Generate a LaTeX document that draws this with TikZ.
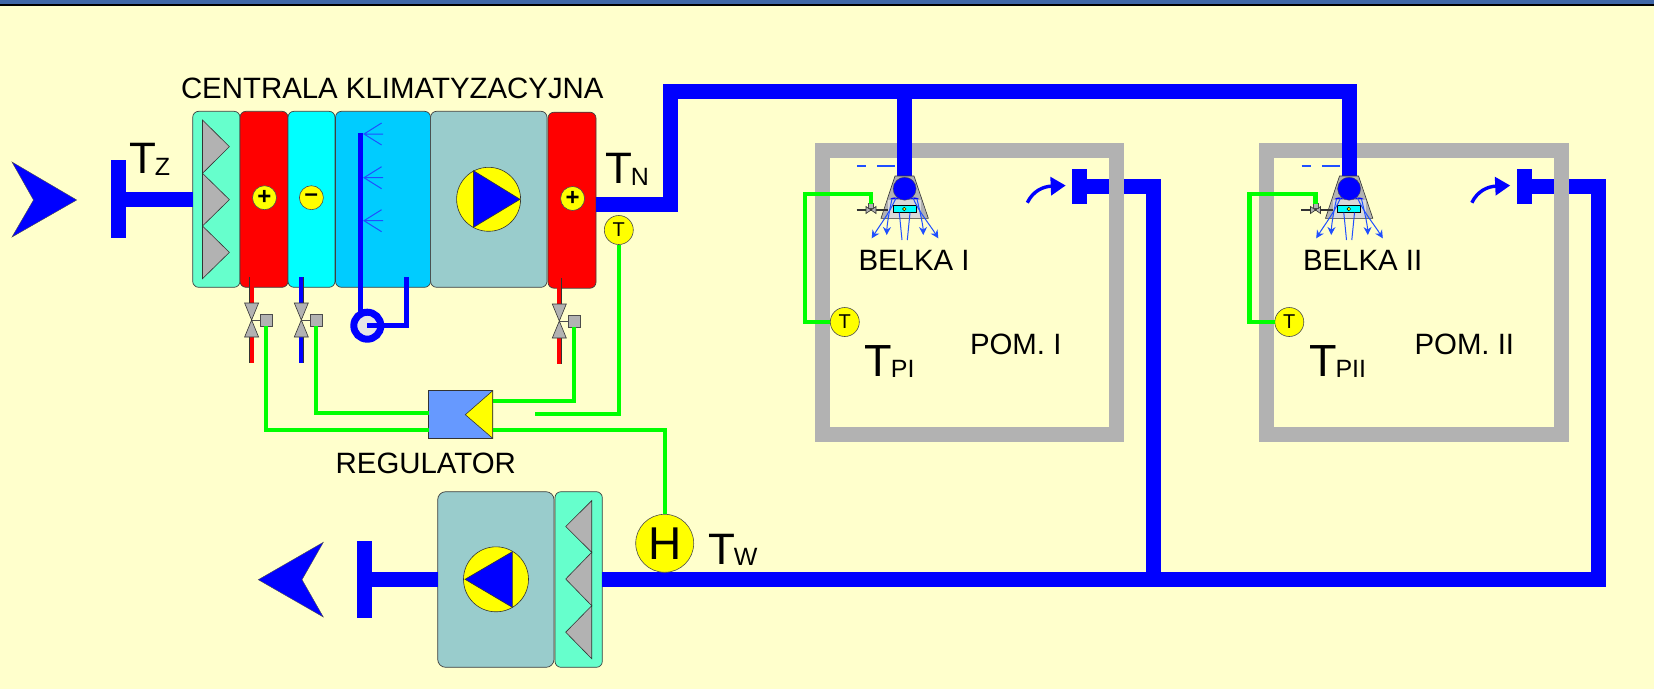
\documentclass[tikz,border=0pt]{standalone}
\usepackage{fontspec}
\setmainfont{Liberation Sans}
\usetikzlibrary{positioning, calc, arrows.meta}
\definecolor{paper}{HTML}{FFFFCC}
\definecolor{wallgray}{HTML}{B2B2B2}
\definecolor{signalgreen}{HTML}{00FF00}
\definecolor{sprayblue}{HTML}{1F4FFF}
\definecolor{aqua}{HTML}{00FFFF}
\definecolor{skyblue}{HTML}{00CCFF}
\definecolor{filtergreen}{HTML}{66FFCC}
\definecolor{fangray}{HTML}{99CCCC}
\definecolor{regblue}{HTML}{6699FF}
\definecolor{purered}{HTML}{FF0000}
\definecolor{pureblue}{HTML}{0000FF}
\definecolor{pureyellow}{HTML}{FFFF00}
\definecolor{bandblue}{HTML}{3F67A8}
\newcommand{\sz}[1]{\fontsize{#1}{#1}\selectfont}
\newcommand{\tlab}[4]{\sz{#1}T\raisebox{-#3pt}{\sz{#2}\kern-1pt\relax #4}}

\begin{document}
\begin{tikzpicture}[x=1pt, y=-1pt,
	every node/.style={outer sep=0, inner sep=0},
	section/.style={draw=black!75, line width=.7pt, rounded corners=6pt},
	fins/.style={draw=black!80, line width=.6pt, fill=wallgray},
	pipe/.style={draw=pureblue, line width=15pt},
	barnode/.style={fill=pureblue, minimum width=15pt},
	tube/.style={line width=5.4pt},
	ctrl/.style={draw=signalgreen, line width=4.2pt},
	sign/.style={circle, draw=black!70, line width=.6pt, fill=pureyellow, minimum size=24pt, font=\bfseries\sz{24}},
	sensor/.style={circle, draw=black!70, line width=.6pt, fill=pureyellow, minimum size=29pt, font=\sz{20}},
	caption/.style={anchor=base west, font=\sz{29.4}},
	tip/.style={fill=pureblue, draw=black!70, line width=.4pt},
	spray/.style={draw=sprayblue, line width=1pt},
	jet/.style={spray, -{Stealth[length=8pt, width=8pt]}},
	actuator/.style={draw=black!70, line width=.6pt, fill=wallgray, minimum size=12pt}]
\useasboundingbox (0,0) rectangle (1654,689);
\fill[paper] (0,0) rectangle (1654,689);
\fill[bandblue] (0,0) rectangle (1654,3.6);
\fill[black] (0,3.6) rectangle (1654,6);

% supply unit
\foreach \n/\cx/\w/\col in {filterA/216.35/47.3/filtergreen, heatA/264/48/purered, cool/311.5/47/aqua, humid/383/95/skyblue, fanA/488.8/116.4/fangray}
	\node[section, fill=\col, minimum width=\w pt, minimum height=176pt] (\n) at (\cx,199.3) {};
\node[section, fill=purered, minimum width=48pt, minimum height=176pt] (heatB) at (572,200.2) {};
\foreach \a/\b in {120/173.3, 173.3/226, 226/278.7}
	\draw[fins] (202.5,\a) -- (229.4,{(\a+\b)/2}) -- (202.5,\b) -- cycle;
\node[sign] (plusA) at (264.5,197.7) {+};
\node[sign] (minusA) at (311.4,197.7) {–};
\node[sign] (plusB) at (572.6,198.5) {+};
\node[circle, draw=black!80, line width=.6pt, fill=pureyellow, minimum size=64pt] (rotorA) at (488.6,199.3) {};
\draw[fins, fill=pureblue] (473.5,170.7) -- (520,199.3) -- (473.5,227.3) -- cycle;
\node[caption] (title) at (181,98) {CENTRALA KLIMATYZACYJNA};

% intake
\draw[tip] (12,162) -- (76.7,200) -- (12,237) -- (33.5,200) -- cycle;
\node[barnode, minimum height=78pt] (barA) at (118.3,199.3) {};
\draw[pipe] (barA.east) -- (filterA.west);
\node[anchor=base west] (tz) at (129,173) {\tlab{44}{25}{2}{Z}};

% humidifier
\node[circle, draw=pureblue, line width=7pt, fill=black!10, minimum size=27pt] (pump) at (367.3,325.7) {};
\coordinate (nozzle) at (360.4,133.3);
\coordinate (hback) at (406.5,276.7);
\draw[pureblue, tube] (nozzle) -- (nozzle |- pump.north);
\draw[pureblue, tube] (pump.center) -| (hback);
\foreach \y in {134, 177.7, 220.7}
	\draw[spray] (381.6,\y-11) -- (364,\y) -- (381.6,\y+11) (364,\y) -- (383,\y);

% valves
\foreach \v/\x/\y/\col/\d in {A/251.6/320/purered/14.7, B/301.3/320/pureblue/15, C/559.3/321/purered/15} {
	\draw[draw=black!80, double=\col, double distance=3.8pt, line width=.4pt] (\x,\y-43) -- (\x,\y-17) (\x,\y+17) -- (\x,\y+43);
	\draw[fins] (\x-7,\y-17) -- (\x+7,\y-17) -- (\x-7,\y+17) -- (\x+7,\y+17) -- cycle;
	\node[actuator] (act\v) at (\x+\d,\y) {};
	\draw[black!70, line width=.7pt] (\x,\y) -- (act\v.west);
}

% regulator
\node[draw=black!80, line width=.7pt, fill=regblue, minimum width=64pt, minimum height=47.6pt] (reg) at (460.7,414.5) {};
\draw[fins, fill=pureyellow] (reg.north east) -- (465.3,414.7) -- (reg.south east) -- cycle;
\node[caption] (regtxt) at (335.7,473) {REGULATOR};
\node[sensor] (tempN) at (618.8,230) {T};
\coordinate (cut) at (535,413.7);
\coordinate (regA) at (reg.west |- 0,430);
\coordinate (regB) at (reg.west |- 0,413.3);
\coordinate (regC) at (reg.east |- 0,400.7);
\coordinate (regD) at (reg.east |- 0,430);
\draw[ctrl] (actA.south) |- (regA);
\draw[ctrl] (actB.south) |- (regB);
\draw[ctrl] (actC.south) |- (regC);
\draw[ctrl] (tempN.south) |- (cut);

% exhaust unit
\node[section, fill=fangray, minimum width=116.3pt, minimum height=175.6pt, rounded corners=8pt] (fanB) at (495.85,579.5) {};
\node[section, fill=filtergreen, minimum width=47.3pt, minimum height=175.6pt] (filterB) at (578.65,579.5) {};
\foreach \a/\b in {500.7/552.3, 552.3/605.7, 605.7/658.7}
	\draw[fins] (591.7,\a) -- (565.7,{(\a+\b)/2}) -- (591.7,\b) -- cycle;
\node[circle, draw=black!80, line width=.6pt, fill=pureyellow, minimum size=65pt] (rotorB) at (496,579.3) {};
\draw[fins, fill=pureblue] (465,579.3) -- (512.3,551.7) -- (512.3,607.3) -- cycle;
\node[barnode, minimum height=76.7pt] (barB) at (364.8,579.5) {};
\draw[pipe] (fanB.west) -- (barB.east);
\draw[tip] (258.3,579.7) -- (323.3,542.3) -- (302,579.7) -- (323.3,617) -- cycle;

% rooms, return ducts behind the walls
\foreach \r/\o in {II/444.5, I/0} {
	\begin{scope}[shift={(\o,0)}]
		\node[barnode, minimum height=34.4pt] (bar\r) at (1079.5,186.5) {};
		\coordinate (drop\r) at (1153.7,579.5);
		\draw[pipe] (filterB.east) -- (drop\r) |- (bar\r.east);
		\node[draw=wallgray, line width=15pt, minimum width=294.3pt, minimum height=283.7pt] (wall\r) at (969.35,292.65) {};
		\coordinate (tee\r) at (904.5,91.7);
		\coordinate (foot\r) at (904.5,178);
	\end{scope}
}

% supply duct
\coordinate (riser) at (670.7,91.7);
\coordinate (outN) at (596,204);
\draw[pipe] (outN) -| (riser) -- (teeII) -- (footII);
\draw[pipe] (teeI) -- (footI);

% beams
\foreach \r/\o in {I/0, II/444.5} {
	\begin{scope}[shift={(\o,0)}]
		\draw[black!80, line width=.6pt, fill=wallgray] (895,176) -- (914,176) -- (928.3,218.3) -- (881,218.3) -- cycle;
		\fill[black!15] (888,200) rectangle (921,217.6);
		\node[circle, fill=pureblue, draw=black!70, line width=.4pt, minimum size=23pt] (head\r) at (904.6,188.7) {};
		\node[draw=black, line width=.6pt, fill=aqua, minimum width=23pt, minimum height=7.4pt] (box\r) at (904.5,209) {};
		\node[circle, draw=black, line width=.4pt, fill=pureyellow, minimum size=3.6pt] (dot\r) at (904.3,209) {};
		\fill[pureblue] (890,199) to[bend left=35] (899,199) -- cycle (910,199) to[bend left=35] (919,199) -- cycle;
		\draw[jet] (896,198) .. controls (890,212) and (880,225) .. (871.7,238.3);
		\draw[jet] (892,199) .. controls (889,212) and (887,225) .. (886.7,235);
		\draw[jet] (917,199) .. controls (920,212) and (923,225) .. (923.3,235);
		\draw[jet] (913,198) .. controls (919,212) and (930,225) .. (938.3,238.3);
		\draw[spray] (899.3,212.7) -- (902,240) (910,212.7) -- (907.3,240);
		\draw[spray, line width=1.6pt] (857,165.7) -- (866,165.7) (877.3,165.7) -- (895,165.7);
		% beam valve
		\draw[black!80, line width=1.5pt] (856.7,210) -- (888,210);
		\draw[fins] (866,206.5) -- (866,213.5) -- (876,206.5) -- (876,213.5) -- cycle;
		\node[actuator, minimum size=5pt] (act\r) at (871,206) {};
		% sensor
		\node[sensor] (temp\r) at (844.8,322) {T};
		\coordinate (bend\r) at (804.9,194);
		\draw[ctrl] (temp\r.west) -| (bend\r) -| (act\r.north);
		% air outlet
		\draw[pureblue, line width=3.4pt, -{Triangle[length=15pt, width=18pt]}] (1027.3,202.7) .. controls (1033,191) and (1043,186.5) .. (1065.7,185.5);
		% texts
		\node[caption] (belka\r) at (858.5,270) {BELKA \r};
		\node[caption] (pom\r) at (970,354) {POM. \r};
		\node[anchor=base west] (tp\r) at (864.5,376.7) {\tlab{45}{25}{1}{P\r}};
	\end{scope}
}
\node[anchor=base west] (tn) at (605,183) {\tlab{44}{25}{2}{N}};

% humidity sensor
\node[circle, draw=black!70, line width=.6pt, fill=pureyellow, minimum size=58pt, font=\sz{46}] (hum) at (664.7,543.3) {H};
\draw[ctrl] (regD) -| (hum.north);
\node[anchor=base west] (tw) at (708,564) {\tlab{44}{25}{1}{W}};
\end{tikzpicture}
\end{document}
